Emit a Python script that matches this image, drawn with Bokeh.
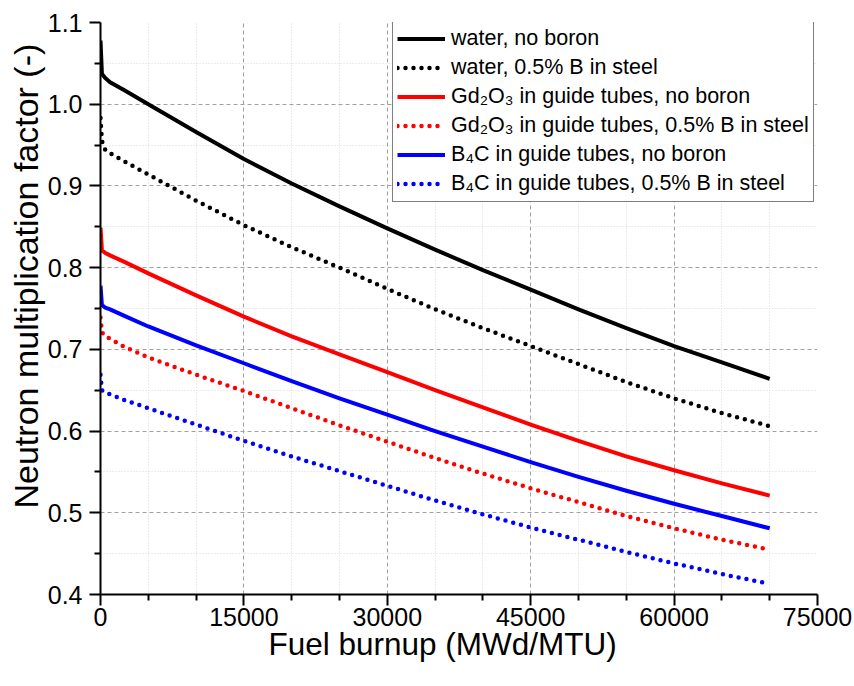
from bokeh.plotting import figure
from bokeh.models import (Range1d, FixedTicker, NumeralTickFormatter, Legend,
                          LegendItem, Title)
from bokeh.embed import file_html
from bokeh.resources import INLINE

# ---- data ----
burnup = [0, 150, 500, 1000, 2500, 5000, 10000, 15000, 20000, 25000, 30000,
          35000, 40000, 45000, 50000, 55000, 60000, 65000, 70000]
water_no_b = [1.078, 1.037, 1.032, 1.027, 1.017, 1.000, 0.966, 0.933, 0.903,
              0.875, 0.848, 0.822, 0.797, 0.773, 0.749, 0.726, 0.704, 0.684, 0.664]
water_b = [0.983, 0.955, 0.944, 0.940, 0.930, 0.914, 0.882, 0.852, 0.825,
           0.800, 0.774, 0.749, 0.726, 0.704, 0.682, 0.660, 0.640, 0.622, 0.606]
gd_no_b = [0.849, 0.821, 0.818, 0.815, 0.807, 0.793, 0.766, 0.740, 0.716,
           0.694, 0.672, 0.650, 0.629, 0.608, 0.588, 0.569, 0.552, 0.536, 0.521]
gd_b = [0.739, 0.721, 0.716, 0.713, 0.703, 0.690, 0.669, 0.649, 0.628,
        0.607, 0.587, 0.567, 0.548, 0.530, 0.513, 0.496, 0.481, 0.467, 0.455]
b4c_no_b = [0.778, 0.754, 0.751, 0.749, 0.741, 0.728, 0.705, 0.683, 0.661,
            0.640, 0.620, 0.600, 0.581, 0.562, 0.544, 0.527, 0.511, 0.496, 0.481]
b4c_b = [0.669, 0.650, 0.647, 0.645, 0.638, 0.628, 0.608, 0.588, 0.569,
         0.551, 0.533, 0.515, 0.498, 0.482, 0.467, 0.452, 0.438, 0.425, 0.413]

series_labels = ["water, no boron", "water, 0.5% B in steel",
                 "Gd\u2082O\u2083 in guide tubes, no boron",
                 "Gd\u2082O\u2083 in guide tubes, 0.5% B in steel",
                 "B\u2084C in guide tubes, no boron",
                 "B\u2084C in guide tubes, 0.5% B in steel"]
series_values = [water_no_b, water_b, gd_no_b, gd_b, b4c_no_b, b4c_b]
series_colors = ["#000000", "#000000", "#ff0000", "#ff0000", "#0000ff", "#0000ff"]
series_dotted = [False, True, False, True, False, True]

x_major = [0, 15000, 30000, 45000, 60000, 75000]
x_minor = [5000, 10000, 20000, 25000, 35000, 40000, 50000, 55000, 65000, 70000]
y_major = [0.4, 0.5, 0.6, 0.7, 0.8, 0.9, 1.0, 1.1]
y_minor = [0.45, 0.55, 0.65, 0.75, 0.85, 0.95, 1.05]

FONT = "Liberation Sans"

p = figure(width=854, height=686, output_backend="svg", toolbar_location=None,
           x_range=Range1d(0, 75000), y_range=Range1d(0.4, 1.1),
           min_border_left=100, min_border_right=37,
           min_border_top=22, min_border_bottom=92)
p.outline_line_color = None
p.background_fill_color = "white"

p.xaxis.ticker = FixedTicker(ticks=x_major, minor_ticks=x_minor)
p.yaxis.ticker = FixedTicker(ticks=y_major, minor_ticks=y_minor)
p.xaxis.formatter = NumeralTickFormatter(format="0")
p.yaxis.formatter = NumeralTickFormatter(format="0.0")

for ax in (p.xaxis, p.yaxis):
    ax.axis_line_width = 2
    ax.axis_line_color = "black"
    ax.major_tick_line_width = 2
    ax.minor_tick_line_width = 2
    ax.major_tick_line_color = "black"
    ax.minor_tick_line_color = "black"
    ax.major_tick_out = 11
    ax.major_tick_in = 0
    ax.minor_tick_out = 6
    ax.minor_tick_in = 0
    ax.major_label_text_font = FONT
    ax.major_label_text_font_size = "25px"
    ax.major_label_text_color = "black"
p.xaxis.major_label_standoff = 2
p.yaxis.major_label_standoff = 7

for g in (p.xgrid, p.ygrid):
    g.grid_line_color = "#a0a0a0"
    g.grid_line_dash = "4 3"
    g.grid_line_width = 1
    g.minor_grid_line_color = "#d8d8d8"
    g.minor_grid_line_dash = "1 2"
    g.minor_grid_line_width = 1

items = []
for lab, vals, col, dot in zip(series_labels, series_values, series_colors, series_dotted):
    if dot:
        r = p.line(burnup, vals, line_color=col, line_width=4.5,
                   line_dash="0 8", line_cap="round", line_join="round")
    else:
        r = p.line(burnup, vals, line_color=col, line_width=4,
                   line_join="round")
    items.append(LegendItem(label=lab, renderers=[r]))

legend = Legend(items=items, location=(292, 392))
legend.label_text_font = FONT
legend.label_text_font_size = "21.5px"
legend.label_text_color = "black"
legend.glyph_width = 48
legend.glyph_height = 27
legend.label_height = 27
legend.spacing = 2
legend.padding = 4
legend.margin = 0
legend.label_standoff = 6
legend.border_line_color = "black"
legend.border_line_width = 1.5
legend.background_fill_color = "white"
legend.background_fill_alpha = 1
p.add_layout(legend)

xt = Title(text="Fuel burnup (MWd/MTU)", align="left", offset=168,
           text_font=FONT, text_font_size="31.5px", text_font_style="normal",
           text_color="black", standoff=-9)
p.add_layout(xt, "below")
yt = Title(text="Neutron multiplication factor (-)", align="left", offset=86,
           text_font=FONT, text_font_size="34px", text_font_style="normal",
           text_color="black", standoff=0)
p.add_layout(yt, "left")

open("out.html", "w").write(file_html(p, INLINE))
